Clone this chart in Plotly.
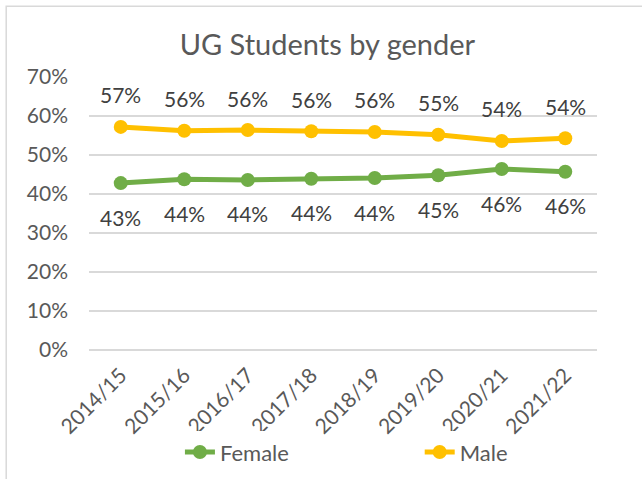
import plotly.graph_objects as go

# academic years on the x axis
years = ["2014/15", "2015/16", "2016/17", "2017/18", "2018/19", "2019/20", "2020/21", "2021/22"]

# share of UG students
female = [0.428, 0.438, 0.436, 0.439, 0.441, 0.448, 0.464, 0.457]
male = [0.572, 0.562, 0.564, 0.561, 0.559, 0.552, 0.536, 0.543]

green = "#70AD47"
gold = "#FFC000"
txt = "#595959"
font_name = "Lato, Calibri, sans-serif"

fig = go.Figure()
fig.add_trace(go.Scatter(
    x=years, y=female, name="Female", mode="lines+markers", legend="legend",
    line=dict(color=green, width=5), marker=dict(color=green, size=14),
))
fig.add_trace(go.Scatter(
    x=years, y=male, name="Male", mode="lines+markers", legend="legend2",
    line=dict(color=gold, width=5), marker=dict(color=gold, size=14),
))

# data labels: male above, female below
annotations = []
for yr, v in zip(years, male):
    annotations.append(dict(x=yr, y=v, text=f"{v:.0%}", showarrow=False,
                            yshift=32, font=dict(size=21, color="#404040", family=font_name)))
for yr, v in zip(years, female):
    annotations.append(dict(x=yr, y=v, text=f"{v:.0%}", showarrow=False,
                            yshift=-34, font=dict(size=21, color="#404040", family=font_name)))

fig.update_layout(
    width=642, height=479,
    margin=dict(l=89, r=45, t=77, b=129),
    paper_bgcolor="white", plot_bgcolor="white",
    font=dict(family=font_name, color=txt, size=21),
    title=dict(text="UG Students by gender", x=0.51, xanchor="center",
               y=0.906, yanchor="middle", font=dict(size=29, color=txt, family=font_name)),
    annotations=annotations,
    showlegend=True,
    legend=dict(orientation="h", x=0.179, xanchor="left", yref="container",
                y=0.056, yanchor="middle", font=dict(size=22, color=txt)),
    legend2=dict(orientation="h", x=0.651, xanchor="left", yref="container",
                 y=0.056, yanchor="middle", font=dict(size=22, color=txt)),
    shapes=[dict(type="rect", xref="paper", yref="paper",
                 x0=-0.163, x1=1.2, y0=-0.7, y1=1.259,
                 line=dict(color="#D9D9D9", width=1.5))],
)
fig.update_xaxes(type="category", range=[-0.5, 7.5], tickangle=-45,
                 showgrid=False, showline=False, ticks="", automargin=False,
                 ticklabelstandoff=8, tickfont=dict(size=21, color=txt))
fig.update_yaxes(range=[0, 0.7], dtick=0.1, tickformat=".0%", automargin=False,
                 showgrid=True, gridcolor="#D9D9D9", gridwidth=1.5,
                 zeroline=True, zerolinecolor="#D9D9D9", zerolinewidth=1.5,
                 showline=False, ticks="", ticklen=0, ticklabelstandoff=20,
                 tickfont=dict(size=21, color=txt))

fig.write_html("out.html", config={"displayModeBar": False},
               post_script="document.body.style.margin='0px';")
